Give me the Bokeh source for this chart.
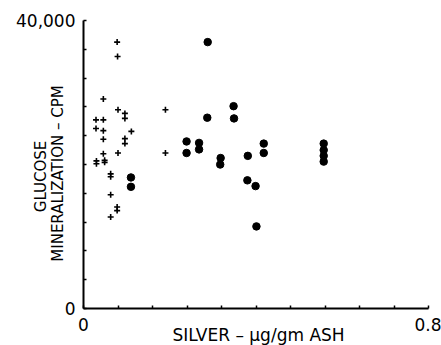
import math
from bokeh.plotting import figure
from bokeh.models import FixedTicker, Label, Range1d
from bokeh.embed import file_html
from bokeh.resources import INLINE

# ---- data ----
plus_x = [0.078, 0.079, 0.046, 0.080, 0.096, 0.190, 0.029, 0.046, 0.096, 0.029,
          0.046, 0.111, 0.046, 0.096, 0.096, 0.046, 0.080, 0.190, 0.030, 0.030,
          0.049, 0.049, 0.063, 0.063, 0.063, 0.078, 0.078, 0.063]
plus_y = [37000, 35000, 29100, 27600, 27100, 27600, 26200, 26200, 26400, 25000,
          24700, 24600, 23500, 23600, 22900, 21500, 21600, 21600, 20500, 20100,
          20600, 20300, 18700, 18300, 15800, 14100, 13600, 12700]

dot_x = [0.110, 0.110, 0.288, 0.287, 0.348, 0.349, 0.239, 0.239, 0.268, 0.268,
         0.318, 0.317, 0.381, 0.418, 0.418, 0.380, 0.399, 0.401,
         0.557, 0.557, 0.557, 0.557]
dot_y = [18200, 16900, 37000, 26500, 28100, 26400, 23200, 21600, 23000, 22100,
         20900, 20000, 21200, 22900, 21600, 17800, 17000, 11400,
         22900, 22000, 21200, 20400]

x_tick_vals = [0, 0.8]
x_tick_text = ["0", "0.8"]
x_minor = [0.08 * i for i in range(1, 10)]
y_tick_vals = [0, 40000]
y_tick_text = ["0", "40,000"]
y_minor = [4000 * i for i in range(1, 10)]

x_title = "SILVER \u2013 \u00b5g/gm ASH"
y_title_1 = "GLUCOSE"
y_title_2 = "MINERALIZATION \u2013 CPM"

FONT = "DejaVu Sans"

# ---- layout (pixels): the frame fills the canvas, axes sit at data 0 ----
W, H = 441, 345
AX_LEFT, AX_RIGHT = 83, 428      # canvas x of x=0 and x=0.8
AX_TOP, AX_BOTTOM = 20, 308      # canvas y of y=40000 and y=0
xs = (x_tick_vals[1] - x_tick_vals[0]) / (AX_RIGHT - AX_LEFT)
ys = (y_tick_vals[1] - y_tick_vals[0]) / (AX_BOTTOM - AX_TOP)
x_range = Range1d(-AX_LEFT * xs, x_tick_vals[1] + (W - AX_RIGHT) * xs)
y_range = Range1d(-(H - AX_BOTTOM) * ys, y_tick_vals[1] + AX_TOP * ys)

p = figure(width=W, height=H, output_backend="svg", toolbar_location=None,
           x_range=x_range, y_range=y_range,
           min_border_left=0, min_border_right=0, min_border_top=0,
           min_border_bottom=0)
p.outline_line_color = None
p.xgrid.visible = False
p.ygrid.visible = False
p.background_fill_color = "white"
p.border_fill_color = "white"

for ax, ticks, minor in ((p.xaxis[0], x_tick_vals, x_minor), (p.yaxis[0], y_tick_vals, y_minor)):
    ax.ticker = FixedTicker(ticks=ticks, minor_ticks=minor)
    ax.fixed_location = 0
    ax.bounds = (ticks[0], ticks[1])
    ax.axis_line_width = 2
    ax.axis_line_color = "black"
    ax.major_tick_in = 3
    ax.major_tick_out = 0
    ax.minor_tick_in = 3
    ax.minor_tick_out = 0
    ax.major_tick_line_width = 1.5
    ax.minor_tick_line_width = 1.5
    ax.major_tick_line_color = "black"
    ax.minor_tick_line_color = "black"
    ax.major_label_text_font = FONT
    ax.major_label_text_font_size = "17px"
    ax.major_label_text_color = "black"

p.xaxis[0].major_label_overrides = {v: t for v, t in zip(x_tick_vals, x_tick_text)}
p.yaxis[0].major_label_overrides = {v: t for v, t in zip(y_tick_vals, y_tick_text)}
p.xaxis[0].major_label_standoff = 9
p.yaxis[0].major_label_standoff = 8

p.scatter(plus_x, plus_y, marker="cross", size=6, line_color="black", line_width=1.6)
p.scatter(dot_x, dot_y, marker="circle", size=7.5, fill_color="black", line_color="black")

# axis titles
p.add_layout(Label(x=0.4, y=0, text=x_title, x_offset=2.5, y_offset=-26,
                   text_align="center", text_baseline="middle",
                   text_font=FONT, text_font_size="17px", text_color="black"))
p.add_layout(Label(x=0, y=20000, text=y_title_1, x_offset=-43, y_offset=-12,
                   angle=math.pi / 2, text_align="center", text_baseline="middle",
                   text_font=FONT, text_font_size="15px", text_color="black"))
p.add_layout(Label(x=0, y=20000, text=y_title_2, x_offset=-25.5, y_offset=-9,
                   angle=math.pi / 2, text_align="center", text_baseline="middle",
                   text_font=FONT, text_font_size="15px", text_color="black"))

open("out.html", "w").write(file_html(p, INLINE))
